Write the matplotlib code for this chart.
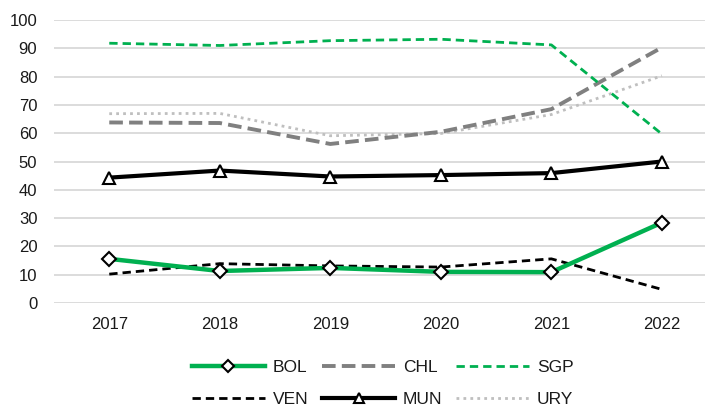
import matplotlib.pyplot as plt

years = ["2017", "2018", "2019", "2020", "2021", "2022"]
bol = [15.6, 11.3, 12.4, 11.0, 10.9, 28.4]
chl = [63.8, 63.6, 56.2, 60.5, 68.5, 90.3]
sgp = [91.8, 91.0, 92.7, 93.2, 91.2, 59.7]
ven = [10.2, 13.9, 13.1, 12.7, 15.6, 4.8]
mun = [44.3, 46.8, 44.7, 45.2, 45.9, 50.0]
ury = [66.9, 67.0, 59.1, 59.9, 66.6, 80.3]

plt.rcParams["font.family"] = ["Liberation Sans", "DejaVu Sans"]

fig = plt.figure(figsize=(7.05, 4.11), dpi=100)
ax = fig.add_axes([0.0766, 0.2628, 0.9234, 0.6885])
x = list(range(len(years)))

green = "#00B050"
ax.plot(x, bol, color=green, lw=3.2, marker="D", ms=7.5, mfc="white", mec="black", mew=1.5,
        label="BOL", zorder=5)
ax.plot(x, ven, color="black", lw=2.0, ls=(0, (3, 1.8)), label="VEN", zorder=4)
ax.plot(x, chl, color="#808080", lw=2.8, ls=(0, (3.5, 1.6)), label="CHL", zorder=3)
ax.plot(x, mun, color="black", lw=3.0, marker="^", ms=8.5, mfc="white", mec="black", mew=1.5,
        label="MUN", zorder=5)
ax.plot(x, sgp, color=green, lw=2.0, ls=(0, (3, 1.8)), label="SGP", zorder=3)
ax.plot(x, ury, color="#BFBFBF", lw=2.0, ls=(0, (1, 1.5)), label="URY", zorder=2)

ax.set_xlim(-0.5, 5.39)
ax.set_ylim(0, 100)
ax.set_yticks(range(0, 101, 10))
ax.set_xticks(x)
ax.set_xticklabels(years)
ax.tick_params(length=0, labelsize=12, colors="#1a1a1a")
ax.tick_params(axis="y", pad=12)
ax.tick_params(axis="x", pad=10)
ax.grid(axis="y", color="#D9D9D9", lw=1.3)
ax.set_axisbelow(True)
for s in ax.spines.values():
    s.set_visible(False)

leg = ax.legend(loc="upper center", bbox_to_anchor=(0.505, -0.145), ncol=3, frameon=False,
                fontsize=12.5, handlelength=4.2, columnspacing=0.8, handletextpad=0.45,
                labelspacing=1.0, markerscale=0.85)
for t in leg.get_texts():
    t.set_color("#1a1a1a")

fig.savefig("out.png", dpi=100)
